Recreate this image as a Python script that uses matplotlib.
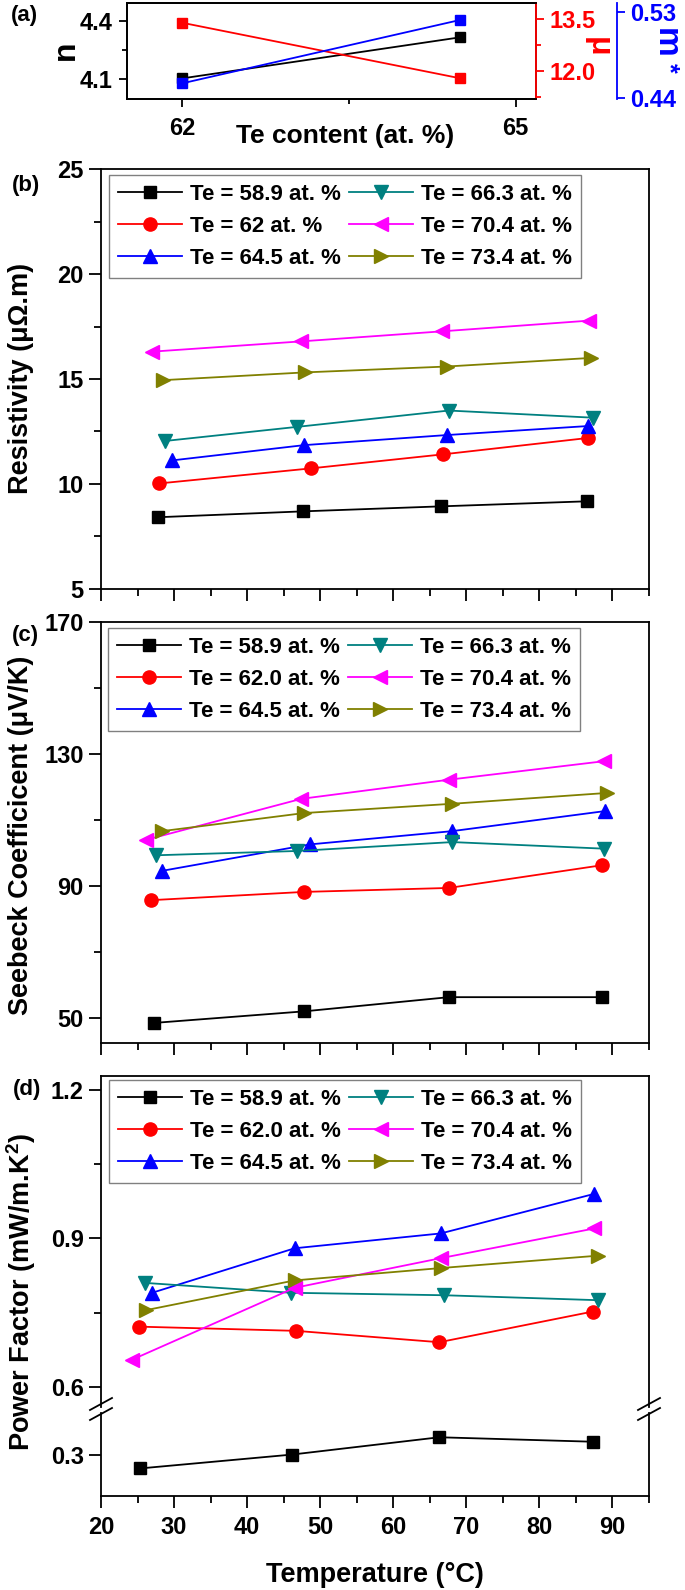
import matplotlib.pyplot as plt
from matplotlib.lines import Line2D

# ---- data ----
# (a) n, mobility and m* against Te content
te_content = [62.0, 64.5]
n_vals = [4.105, 4.315]
mu_vals = [13.39, 11.78]
mstar_vals = [0.4556, 0.5214]

labels_b = ["Te = 58.9 at. %", "Te = 62 at. %", "Te = 64.5 at. %",
            "Te = 66.3 at. %", "Te = 70.4 at. %", "Te = 73.4 at. %"]
labels_cd = ["Te = 58.9 at. %", "Te = 62.0 at. %", "Te = 64.5 at. %",
             "Te = 66.3 at. %", "Te = 70.4 at. %", "Te = 73.4 at. %"]
colors = ["black", "#FF0000", "#0000FF", "#008080", "#FF00FF", "#808000"]
markers = ["s", "o", "^", "v", "<", ">"]

# (b) resistivity (uOhm.m)
temp_b = [[27.8, 47.6, 66.6, 86.5],
          [27.9, 48.7, 66.8, 86.6],
          [29.7, 47.8, 67.3, 86.6],
          [28.8, 46.8, 67.6, 87.3],
          [27.0, 47.4, 66.7, 86.8],
          [28.5, 47.9, 67.3, 87.0]]
resistivity = [[8.40, 8.68, 8.92, 9.16],
               [10.01, 10.73, 11.40, 12.18],
               [11.11, 11.84, 12.32, 12.75],
               [12.04, 12.71, 13.49, 13.15],
               [16.30, 16.79, 17.27, 17.78],
               [14.94, 15.31, 15.59, 16.00]]

# (c) Seebeck coefficient (uV/K)
temp_c = [[27.3, 47.8, 67.6, 88.6],
          [26.9, 47.8, 67.6, 88.6],
          [28.4, 48.6, 68.0, 89.0],
          [27.5, 46.8, 68.1, 88.9],
          [26.2, 47.4, 67.6, 88.8],
          [28.3, 47.8, 68.0, 89.3]]
seebeck = [[48.5, 52.0, 56.3, 56.3],
           [85.7, 88.2, 89.4, 96.3],
           [94.6, 102.6, 106.6, 112.7],
           [99.3, 100.6, 103.3, 101.3],
           [104.0, 116.4, 122.2, 127.8],
           [106.6, 112.1, 114.9, 118.2]]

# (d) power factor (mW/m.K^2)
temp_d = [[25.3, 46.1, 66.3, 87.3],
          [25.2, 46.7, 66.3, 87.3],
          [27.0, 46.5, 66.5, 87.5],
          [26.0, 46.0, 67.0, 88.0],
          [24.3, 46.5, 66.5, 87.5],
          [26.2, 46.5, 66.5, 88.0]]
power_factor = [[0.273, 0.301, 0.336, 0.327],
                [0.7215, 0.713, 0.690, 0.752],
                [0.79, 0.88, 0.91, 0.99],
                [0.81, 0.79, 0.785, 0.775],
                [0.655, 0.80, 0.86, 0.92],
                [0.755, 0.815, 0.84, 0.865]]

# ---- figure ----
W, H = 685, 1590
plt.rcParams['font.family'] = ['Liberation Sans', 'DejaVu Sans']
plt.rcParams['font.weight'] = 'bold'
plt.rcParams['axes.labelweight'] = 'bold'
plt.rcParams['mathtext.fontset'] = 'custom'
plt.rcParams['mathtext.rm'] = 'Liberation Sans:bold'
plt.rcParams['mathtext.it'] = 'Liberation Sans:bold'
plt.rcParams['mathtext.bf'] = 'Liberation Sans:bold'
plt.rcParams['axes.linewidth'] = 1.3

fig = plt.figure(figsize=(W / 100, H / 100), dpi=100)


def rect(x0, y0, x1, y1):
    # pixel box (top-left origin) -> figure fraction rect
    return [x0 / W, 1 - y1 / H, (x1 - x0) / W, (y1 - y0) / H]


def ftext(x, y, s, **kw):
    fig.text(x / W, 1 - y / H, s, ha='center', va='center', **kw)


def style_ticks(ax, size=17):
    ax.tick_params(which='both', direction='out', width=1.3, labelsize=size,
                   top=False, right=False)
    ax.tick_params(which='major', length=8.5, pad=4)
    ax.tick_params(which='minor', length=5)


def draw_series(ax, temps, vals, rows):
    handles = []
    for i in rows:
        ms = 8.5 if markers[i] == 's' else 9.5
        h, = ax.plot(temps[i], vals[i], color=colors[i], marker=markers[i],
                     ms=ms, lw=1.3, mec=colors[i])
        handles.append(h)
    return handles


def add_legend(ax, handles, labels, anchor):
    leg = ax.legend(handles, labels, ncol=2, loc='upper left',
                    bbox_to_anchor=anchor, borderaxespad=0, fontsize=16,
                    handlelength=2.9, handletextpad=0.35, columnspacing=0.35,
                    borderpad=0.4, labelspacing=0.5, fancybox=False,
                    framealpha=1, edgecolor='#808080')
    leg.get_frame().set_linewidth(1.0)


xlim = (20, 95)
L, R = 101, 649

# (a)
axa = fig.add_axes(rect(126.7, 3.3, 535.7, 99.3))
axa.plot(te_content, n_vals, color='black', marker='s', ms=7.5, lw=1.3)
axa.set_xlim(61.5, 65.18)
axa.set_ylim(3.998, 4.489)
axa.set_xticks([62, 65])
axa.set_xticks([63.5], minor=True)
axa.set_yticks([4.1, 4.4])
axa.set_yticks([4.25], minor=True)
axa.set_yticklabels(["4.1", "4.4"])
axa.tick_params(which='both', direction='out', width=1.3, labelsize=17)
axa.tick_params(which='major', length=6, pad=4)
axa.tick_params(which='minor', length=3.5)
axa.tick_params(axis='x', pad=7)

axr = axa.twinx()
axr.plot(te_content, mu_vals, color='#FF0000', marker='s', ms=7.5, lw=1.3)
axr.set_ylim(11.17, 13.955)
axr.set_yticks([12.0, 13.5])
axr.set_yticks([11.25, 12.75], minor=True)
axr.set_yticklabels(["12.0", "13.5"])
axr.spines['right'].set_color('#FF0000')
axr.tick_params(which='both', direction='out', width=1.3, labelsize=17,
                colors='#FF0000', pad=4)
axr.tick_params(which='major', length=6)
axr.tick_params(which='minor', length=3.5)

axm = axa.twinx()
axm.plot(te_content, mstar_vals, color='#0000FF', marker='s', ms=7.5, lw=1.3)
axm.set_ylim(0.439, 0.5387)
axm.set_yticks([0.44, 0.53])
axm.set_yticklabels(["0.44", "0.53"])
axm.spines['right'].set_position(('outward', 81 * 0.72))
axm.spines['right'].set_color('#0000FF')
for s in ['top', 'left', 'bottom']:
    axm.spines[s].set_visible(False)
axm.tick_params(which='both', direction='out', width=1.3, labelsize=17,
                colors='#0000FF', length=6, pad=4)

ftext(66, 50, "n", fontsize=23, rotation=90)
ftext(598, 47, "\u03bc", fontsize=23, rotation=270, color='#FF0000')
ftext(665, 43, "m", fontsize=24, rotation=270, color='#0000FF')
ftext(669, 68, "*", fontsize=18, rotation=270, color='#0000FF')
ftext(345, 136, "Te content (at. %)", fontsize=19)

# (b)
axb = fig.add_axes(rect(L, 169.3, R, 588.5))
hb = draw_series(axb, temp_b, resistivity, range(6))
axb.set_xlim(*xlim)
axb.set_ylim(5, 25)
axb.set_xticks(range(20, 91, 10))
axb.set_xticks(range(25, 96, 10), minor=True)
axb.set_yticks([5, 10, 15, 20, 25])
axb.set_yticks([7.5, 12.5, 17.5, 22.5], minor=True)
axb.set_xticklabels([])
style_ticks(axb)
add_legend(axb, hb, labels_b, (0.0146, 0.9864))

# (c)
axc = fig.add_axes(rect(L, 622, R, 1042.7))
hc = draw_series(axc, temp_c, seebeck, range(6))
axc.set_xlim(*xlim)
axc.set_ylim(42.5, 170)
axc.set_xticks(range(20, 91, 10))
axc.set_xticks(range(25, 96, 10), minor=True)
axc.set_yticks([50, 90, 130, 170])
axc.set_yticks([70, 110, 150], minor=True)
axc.set_xticklabels([])
style_ticks(axc)
add_legend(axc, hc, labels_cd, (0.0128, 0.986))

# (d) broken y axis
axd = fig.add_axes(rect(L, 1075.7, R, 1407))
axd2 = fig.add_axes(rect(L, 1413, R, 1495.7))
hd_top = draw_series(axd, temp_d, power_factor, range(1, 6))
hd_bot = draw_series(axd2, temp_d, power_factor, [0])
for ax in (axd, axd2):
    ax.set_xlim(*xlim)
    style_ticks(ax)
axd.set_ylim(0.559, 1.229)
axd.set_yticks([0.6, 0.9, 1.2])
axd.set_yticks([0.75, 1.05], minor=True)
axd.set_yticklabels(["0.6", "0.9", "1.2"])
axd.spines['bottom'].set_visible(False)
axd.tick_params(axis='x', which='both', bottom=False, labelbottom=False)
axd2.set_ylim(0.218, 0.385)
axd2.set_yticks([0.3])
axd2.set_yticklabels(["0.3"])
axd2.spines['top'].set_visible(False)
axd2.set_xticks(range(20, 91, 10))
axd2.set_xticks(range(25, 96, 10), minor=True)
axd2.tick_params(axis='x', pad=6)
add_legend(axd, hd_bot + hd_top, labels_cd, (0.0146, 0.988))

# break marks
for xb in (L, R):
    for yb in (1404, 1414):
        fig.add_artist(Line2D([(xb - 11) / W, (xb + 11) / W],
                              [1 - (yb + 6) / H, 1 - (yb - 6) / H],
                              color='black', lw=1.3))

# axis titles and panel letters
ftext(21, 378, "Resistivity (\u03bc\u03a9.m)", fontsize=19.5, rotation=90)
ftext(21, 835, "Seebeck Coefficicent (\u03bcV/K)", fontsize=19.5, rotation=90)
ftext(21, 1292, r"Power Factor (mW/m.K$^{2}$)", fontsize=19.5, rotation=90)
ftext(375, 1575, "Temperature (\u00b0C)", fontsize=19.5)
ftext(24, 15, "(a)", fontsize=16)
ftext(26, 185, "(b)", fontsize=16)
ftext(25, 635, "(c)", fontsize=16)
ftext(27, 1090, "(d)", fontsize=16)

fig.savefig("out.png", dpi=100)
